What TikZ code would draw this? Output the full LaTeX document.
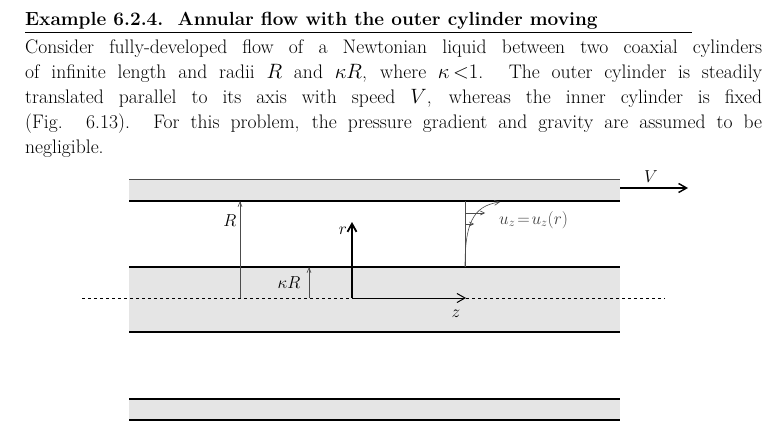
\documentclass[tikz,border=0pt]{standalone}
\usetikzlibrary{arrows.meta}
\begin{document}
\begin{tikzpicture}[x=1pt,y=-1pt,
  band/.style={fill=black!10,draw=none},
  thick line/.style={line width=1.4pt},
  thin line/.style={line width=0.6pt,black!70},
  txt/.style={anchor=west,inner sep=0,font=\fontsize{19.6}{22}\selectfont},
  lbl/.style={inner sep=1pt,font=\fontsize{18}{20}\selectfont},
  open/.style={-{Straight Barb[length=8pt,width=9pt]}}]
\useasboundingbox (0,0) rectangle (775,433);
\node[anchor=west,inner sep=0,font=\fontsize{19}{22}\selectfont\bfseries] (title) at (25,21) {Example 6.2.4.\ \ Annular flow with the outer cylinder moving};
\draw[line width=1pt] (25,33) -- (692,33);
\node[txt] (l1) at (25,49) {\makebox[737pt][s]{Consider fully-developed flow of a Newtonian liquid between two coaxial cylinders}};
\node[txt] (l2) at (25,73) {\makebox[737pt][s]{of infinite length and radii $R$ and $\kappa R$, where $\kappa\,{<}1$. The outer cylinder is steadily}};
\node[txt] (l3) at (25,98) {\makebox[737pt][s]{translated parallel to its axis with speed $V$, whereas the inner cylinder is fixed}};
\node[txt] (l4) at (25,124) {\makebox[737pt][s]{(Fig. 6.13). For this problem, the pressure gradient and gravity are assumed to be}};
\node[txt] (l5) at (25,149) {negligible.};
% bands
\fill[band] (129,179) rectangle (620,201);
\fill[band] (129,267) rectangle (620,332);
\fill[band] (129,399) rectangle (620,420);
\draw[thin line] (129,179) -- (620,179);
\draw[thick line] (129,201) -- (620,201);
\draw[thick line] (129,267) -- (620,267);
\draw[thick line] (129,332) -- (620,332);
\draw[thick line] (129,399) -- (620,399);
\draw[thick line] (129,420) -- (620,420);
\draw[dashed,line width=0.5pt] (82,298) -- (665,298);
% coordinates
\coordinate (o) at (352,298);
\coordinate (rtip) at (352,222);
\coordinate (ztip) at (466,298);
\coordinate (Rb) at (240,298); \coordinate (Rt) at (240,201);
\coordinate (kb) at (309,298); \coordinate (kt) at (309,267);
\draw[thin line,-{Straight Barb[length=5pt,width=4pt]}] (Rb) -- (Rt);
\draw[thin line,-{Straight Barb[length=5pt,width=4pt]}] (kb) -- (kt);
\node[lbl] (Rl) at (230,221) {$R$};
\node[lbl] (kl) at (289,283) {$\kappa R$};
\draw[line width=1.8pt,open] (o) -- (rtip);
\draw[line width=1pt,open] (o) -- (ztip);
\node[lbl] (rl) at (343,231) {$r$};
\node[lbl] (zl) at (456,314) {$z$};
% profile
\coordinate (pb) at (465,267); \coordinate (pt) at (465,201);
\coordinate (pe) at (500,202);
\draw[thin line] (pb) -- (pt);
\draw[thin line,-{Straight Barb[length=5pt,width=5pt]}] (pb) .. controls (465,225) and (472,206) .. (pe);
\draw[thin line,-{Straight Barb[length=4pt,width=4pt]}] (465,213) -- (485,213);
\draw[thin line,-{Straight Barb[length=4pt,width=4pt]}] (465,224) -- (474,224);
\node[lbl,anchor=west,black!75] (ul) at (498,220) {$u_z\!=\!u_z(r)$};
% V
\coordinate (vs) at (620,188); \coordinate (ve) at (688,188);
\draw[line width=1.4pt,open] (vs) -- (ve);
\node[lbl] (vl) at (651,177) {$V$};
\end{tikzpicture}
\end{document}
